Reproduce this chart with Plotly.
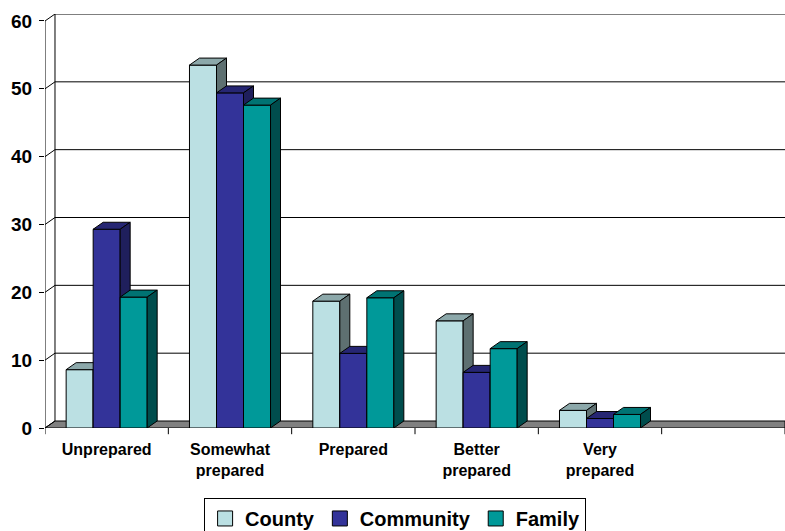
import plotly.graph_objects as go

categories = ["Unprepared", "Somewhat<br>prepared", "Prepared", "Better<br>prepared", "Very<br>prepared"]
series_names = ["County", "Community", "Family"]
county = [8.6, 53.5, 18.7, 15.8, 2.6]
community = [29.3, 49.4, 11.0, 8.2, 1.4]
family = [19.3, 47.6, 19.2, 11.7, 2.0]
y_ticks = [0, 10, 20, 30, 40, 50, 60]

front_colors = ["#BBE0E3", "#333399", "#009999"]
top_colors = ["#8CA8AA", "#262673", "#007373"]
side_colors = ["#5E7071", "#1F1F5C", "#004D4D"]

values = [county, community, family]
n_slots = 6          # 5 categories + one empty slot as in the original
dx = 0.081           # depth offset in x units
dy = 1.03            # depth offset in y units
y_top = 60 + dy
group_w = 0.657
bw = group_w / 3

fig = go.Figure()

for i in range(len(categories)):
    for j, vals in enumerate(values):
        v = vals[i]
        x0 = i + 0.5 - group_w / 2 + j * bw
        x1 = x0 + bw
        # front face
        fig.add_trace(go.Scatter(
            x=[x0, x1, x1, x0, x0], y=[0, 0, v, v, 0], mode="lines",
            fill="toself", fillcolor=front_colors[j],
            line=dict(color="black", width=1), showlegend=False, hoverinfo="skip"))
        # top face
        fig.add_trace(go.Scatter(
            x=[x0, x1, x1 + dx, x0 + dx, x0], y=[v, v, v + dy, v + dy, v], mode="lines",
            fill="toself", fillcolor=top_colors[j],
            line=dict(color="black", width=1), showlegend=False, hoverinfo="skip"))
        # side face
        fig.add_trace(go.Scatter(
            x=[x1, x1 + dx, x1 + dx, x1, x1], y=[0, dy, v + dy, v, 0], mode="lines",
            fill="toself", fillcolor=side_colors[j],
            line=dict(color="black", width=1), showlegend=False, hoverinfo="skip"))

# legend entries
for j, name in enumerate(series_names):
    fig.add_trace(go.Scatter(
        x=[None], y=[None], mode="markers", name=name,
        marker=dict(symbol="square", size=15, color=front_colors[j],
                    line=dict(color="black", width=1))))

shapes = []
# floor
shapes.append(dict(type="path", xref="x", yref="y",
                   path=f"M 0,0 L {n_slots},0 L {n_slots},{dy} L {dx},{dy} Z",
                   fillcolor="#808080", line=dict(color="black", width=1), layer="below"))
# back wall gridlines and top
for t in y_ticks[1:]:
    shapes.append(dict(type="line", xref="x", yref="y", x0=dx, x1=n_slots, y0=t + dy, y1=t + dy,
                       line=dict(color="black", width=1), layer="below"))
# back wall left edge
shapes.append(dict(type="line", xref="x", yref="y", x0=dx, x1=dx, y0=dy, y1=y_top,
                   line=dict(color="black", width=1), layer="below"))
# left wall: front edge and diagonals
shapes.append(dict(type="line", xref="x", yref="y", x0=0, x1=0, y0=0, y1=60,
                   line=dict(color="black", width=1), layer="below"))
for t in y_ticks:
    shapes.append(dict(type="line", xref="x", yref="y", x0=0, x1=dx, y0=t, y1=t + dy,
                       line=dict(color="black", width=1), layer="below"))
# category boundary ticks
for k in range(n_slots + 1):
    shapes.append(dict(type="line", xref="x", yref="paper", x0=k, x1=k, y0=0, y1=-0.015,
                       line=dict(color="black", width=1)))

fig.update_layout(
    width=785, height=531,
    margin=dict(l=45, r=0, t=14, b=103, autoexpand=False),
    paper_bgcolor="white", plot_bgcolor="white",
    shapes=shapes,
    showlegend=True,
    legend=dict(orientation="h", x=0.215, y=-0.169, xanchor="left", yanchor="top",
                bordercolor="black", borderwidth=1, bgcolor="white",
                font=dict(family="Liberation Sans, Arial", size=20, color="black", weight="bold"),
                itemclick=False, tracegroupgap=0),
    xaxis=dict(range=[0, n_slots], showgrid=False, zeroline=False, showline=False,
               tickmode="array", tickvals=[i + 0.5 for i in range(len(categories))],
               ticktext=categories, ticks="", ticklabelstandoff=10,
               tickfont=dict(family="Liberation Sans, Arial", size=16, color="black", weight="bold")),
    yaxis=dict(range=[0, y_top], showgrid=False, zeroline=False, showline=False,
               tickmode="array", tickvals=y_ticks, ticks="outside", ticklen=5,
               tickcolor="black", ticklabelstandoff=3,
               tickfont=dict(family="Liberation Sans, Arial", size=19, color="black", weight="bold")),
)

fig.write_html("out.html")
